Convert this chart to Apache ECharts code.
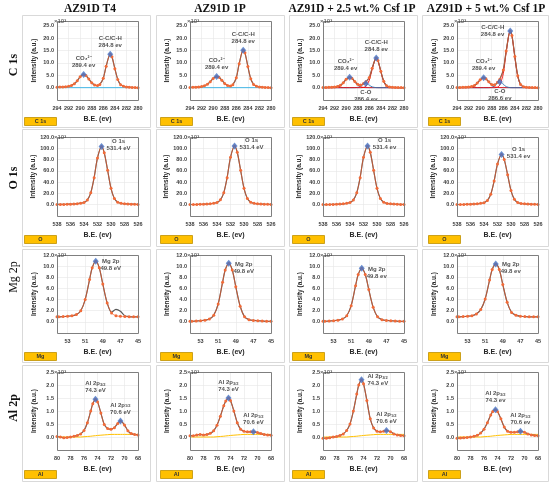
<!DOCTYPE html>
<html lang="en">
<head>
    <meta charset="UTF-8">
    <script src="https://cdn.jsdelivr.net/npm/echarts@6/dist/echarts.min.js"></script>
    <title>XPS spectra</title>
    <style>
        html, body { margin: 0; padding: 0; background: #fff; }
        #main { width: 550px; height: 482px; }
    </style>
</head>
<body>
<div id="main"></div>

<script>
    // column / row headings
    var COLS = ['AZ91D T4', 'AZ91D 1P', 'AZ91D + 2.5 wt.% Csf 1P', 'AZ91D + 5 wt.% Csf 1P'];
    var ROWS = ['C 1s', 'O 1s', 'Mg 2p', 'Al 2p'];
    var TAGS = ['C 1s', 'O', 'Mg', 'Al'];

    // ---- C 1s ----
    var XC = [294, 293.5, 293, 292.5, 292, 291.5, 291, 290.5, 290, 289.4, 289, 288.5, 288, 287.5, 287, 286.6, 286, 285.5, 284.8, 284.5, 284, 283.5, 283, 282.5, 282, 281.5, 281, 280.5, 280];
    var C_T4 = [0.2, 0.25, 0.3, 0.4, 0.55, 0.9, 1.6, 2.8, 4.4, 5.3, 4.9, 3.5, 2.0, 1.1, 0.85, 1.3, 3.8, 8.7, 13.5, 12.5, 7.7, 3.3, 1.2, 0.55, 0.3, 0.2, 0.1, 0.05, 0.0];
    var C_1P = [0.1, 0.15, 0.2, 0.3, 0.45, 0.75, 1.35, 2.4, 3.7, 4.5, 4.2, 3.0, 1.7, 0.9, 0.7, 1.2, 4.0, 9.7, 15.2, 14.1, 8.6, 3.6, 1.3, 0.55, 0.3, 0.2, 0.1, 0.05, 0.0];
    var C_25 = [0.1, 0.1, 0.15, 0.2, 0.3, 0.5, 1.0, 2.0, 3.4, 4.2, 3.8, 2.5, 1.35, 1.05, 1.65, 2.35, 4.1, 7.9, 12.0, 11.0, 6.6, 2.6, 0.8, 0.3, 0.15, 0.1, 0.05, 0.03, 0.0];
    var C_25_CO3 = [0, 0, 0, 0.02, 0.05, 0.2, 0.7, 1.77, 3.2, 4.1, 3.67, 2.34, 1.05, 0.34, 0.07, 0.02, 0, 0, 0, 0, 0, 0, 0, 0, 0, 0, 0, 0, 0];
    var C_25_CO = [0, 0, 0, 0, 0, 0, 0, 0, 0, 0, 0, 0.01, 0.11, 0.54, 1.36, 1.7, 1.02, 0.31, 0.02, 0, 0, 0, 0, 0, 0, 0, 0, 0, 0];
    var C_25_CC = [0, 0, 0, 0, 0, 0, 0, 0, 0, 0, 0, 0, 0, 0, 0.11, 0.54, 2.99, 7.44, 11.9, 10.91, 6.44, 2.36, 0.54, 0.07, 0.01, 0, 0, 0, 0];
    var C_5 = [0.1, 0.1, 0.15, 0.2, 0.3, 0.45, 0.9, 1.9, 3.2, 4.0, 3.6, 2.35, 1.3, 1.2, 2.2, 3.45, 7.2, 14.8, 23.0, 21.1, 12.6, 4.8, 1.3, 0.35, 0.15, 0.1, 0.05, 0.03, 0.0];
    var C_5_CO3 = [0, 0, 0, 0.02, 0.04, 0.18, 0.66, 1.68, 3.04, 3.9, 3.49, 2.22, 1.0, 0.32, 0.07, 0.02, 0, 0, 0, 0, 0, 0, 0, 0, 0, 0, 0, 0, 0];
    var C_5_CO = [0, 0, 0, 0, 0, 0, 0, 0, 0, 0, 0, 0.01, 0.14, 0.74, 1.84, 2.3, 1.38, 0.41, 0.02, 0, 0, 0, 0, 0, 0, 0, 0, 0, 0];
    var C_5_CC = [0, 0, 0, 0, 0, 0, 0, 0, 0, 0, 0, 0, 0, 0, 0.22, 1.03, 5.72, 14.25, 22.8, 20.9, 12.33, 4.51, 1.03, 0.14, 0.02, 0, 0, 0, 0];
    var CB_X = [294, 280];
    var CB_Y = [0, 0];
    var C_T4_PK = [[289.4, 5.3], [284.8, 13.5]];
    var C_1P_PK = [[289.4, 4.5], [284.8, 15.2]];
    var C_25_PK = [[289.4, 4.2], [286.6, 1.7], [284.8, 12.0]];
    var C_5_PK = [[289.4, 4.0], [286.6, 2.3], [284.8, 23.0]];

    // ---- O 1s ----
    var XO = [538, 537.5, 537, 536.5, 536, 535.5, 535, 534.5, 534, 533.5, 533, 532.5, 532, 531.4, 531, 530.5, 530, 529.5, 529, 528.5, 528, 527.5, 527, 526.5, 526];
    var O_T4 = [0.5, 0.5, 0.6, 0.8, 1.0, 1.3, 1.8, 2.7, 4.0, 8.5, 21, 48, 83, 103, 92, 61, 29, 11, 4.4, 2.5, 1.8, 1.3, 1.0, 0.8, 0.6];
    var O_1P = [0.4, 0.4, 0.5, 0.7, 0.9, 1.2, 1.7, 2.6, 4.0, 8.6, 21, 48, 84, 104, 93, 61, 29, 11, 4.4, 2.4, 1.7, 1.2, 0.9, 0.7, 0.5];
    var O_25 = [0.3, 0.3, 0.4, 0.6, 0.8, 1.1, 1.6, 2.5, 3.9, 8.5, 21, 48, 84, 104, 93, 61, 29, 11, 4.3, 2.3, 1.6, 1.1, 0.8, 0.6, 0.4];
    var O_5 = [0.4, 0.4, 0.5, 0.7, 0.9, 1.2, 1.6, 2.4, 3.6, 7.5, 18.5, 42, 72, 89, 80, 53, 25, 9.5, 3.8, 2.2, 1.6, 1.1, 0.9, 0.7, 0.5];
    var O_T4_PK = [[531.4, 103]];
    var O_1P_PK = [[531.4, 104]];
    var O_25_PK = [[531.4, 104]];
    var O_5_PK = [[531.4, 89]];

    // ---- Mg 2p ----
    var XM = [54.2, 54, 53.5, 53, 52.5, 52, 51.5, 51, 50.5, 50.2, 49.8, 49.4, 49, 48.5, 48, 47.5, 47, 46.5, 46, 45.5, 45];
    var MG_T4 = [0.9, 0.9, 0.95, 1.0, 1.1, 1.3, 2.0, 4.0, 7.6, 9.7, 10.9, 9.7, 6.8, 3.4, 1.6, 1.1, 1.0, 0.95, 0.9, 0.9, 0.9];
    var MG_T4_FIT = [0.9, 0.9, 0.95, 1.0, 1.1, 1.3, 2.0, 4.0, 7.6, 9.7, 10.9, 9.7, 6.8, 3.4, 1.75, 2.25, 1.9, 1.1, 0.95, 0.9, 0.9];
    var MG_1P = [0.1, 0.1, 0.15, 0.2, 0.3, 0.5, 1.2, 3.2, 7.1, 9.3, 10.5, 9.3, 6.3, 2.8, 0.9, 0.4, 0.25, 0.2, 0.15, 0.1, 0.1];
    var MG_25 = [0.1, 0.1, 0.15, 0.2, 0.3, 0.5, 1.1, 2.9, 6.5, 8.5, 9.6, 8.5, 5.8, 2.6, 0.9, 0.4, 0.25, 0.2, 0.15, 0.1, 0.1];
    var MG_5 = [0.9, 0.9, 0.95, 1.0, 1.1, 1.4, 2.2, 4.1, 7.5, 9.4, 10.4, 9.4, 6.7, 3.5, 1.7, 1.2, 1.0, 0.95, 0.9, 0.9, 0.9];
    var MG_T4_PK = [[49.8, 10.9]];
    var MG_1P_PK = [[49.8, 10.5]];
    var MG_25_PK = [[49.8, 9.6]];
    var MG_5_PK = [[49.8, 10.4]];

    // ---- Al 2p ----
    var XA = [80, 79.5, 79, 78.5, 78, 77.5, 77, 76.5, 76, 75.5, 75, 74.7, 74.3, 74, 73.5, 73, 72.5, 72, 71.5, 71, 70.6, 70, 69.5, 69, 68.5, 68];
    var AL_T4 = [0.02, 0.0, -0.03, -0.02, 0.0, 0.03, 0.06, 0.12, 0.25, 0.55, 1.0, 1.28, 1.45, 1.36, 0.92, 0.48, 0.33, 0.3, 0.36, 0.52, 0.62, 0.46, 0.24, 0.13, 0.1, 0.08];
    var AL_1P = [0.05, 0.05, 0.08, 0.1, 0.08, 0.1, 0.14, 0.24, 0.45, 0.8, 1.2, 1.38, 1.5, 1.4, 1.0, 0.55, 0.3, 0.22, 0.2, 0.2, 0.2, 0.17, 0.13, 0.1, 0.08, 0.07];
    var AL_25 = [-0.05, -0.05, -0.03, 0.0, 0.02, 0.06, 0.12, 0.25, 0.5, 1.0, 1.65, 2.0, 2.2, 2.05, 1.4, 0.7, 0.35, 0.22, 0.2, 0.22, 0.25, 0.2, 0.12, 0.08, 0.06, 0.05];
    var AL_5 = [-0.05, -0.04, -0.03, -0.02, 0.0, 0.03, 0.07, 0.15, 0.3, 0.55, 0.85, 0.98, 1.05, 0.98, 0.7, 0.38, 0.22, 0.18, 0.18, 0.2, 0.22, 0.18, 0.12, 0.08, 0.06, 0.05];
    var AL_BG = [0, 0, 0, 0, 0, 0, 0, 0, 0.01, 0.02, 0.03, 0.04, 0.05, 0.06, 0.07, 0.08, 0.09, 0.1, 0.1, 0.1, 0.1, 0.1, 0.1, 0.1, 0.1, 0.1];
    var AL_T4_PK = [[74.3, 1.45], [70.6, 0.62]];
    var AL_1P_PK = [[74.3, 1.5], [70.6, 0.2]];
    var AL_25_PK = [[74.3, 2.2], [70.6, 0.25]];
    var AL_5_PK = [[74.3, 1.05], [70.6, 0.22]];

    // axis ranges per row
    var X_MIN = [280, 526, 45, 68];
    var X_MAX = [294, 538, 54.2, 80];
    var X_LAST = [294, 538, 53, 80];
    var Y_MIN = [-5, -20, -2, -0.5];
    var Y_MAX = [27, 120, 12, 2.5];
    var Y_STEP = [5, 20, 2, 0.5];
    var Y_LAST = [25, 120, 12, 2.5];

    // layout
    var GL = [57, 190, 323, 457], GW = 81;
    var GT = [21, 137, 255, 372], GH = [79, 79, 78, 78];
    var CX = [22, 156, 289, 422], CW = [128, 128, 128, 126];
    var CY = [15, 129, 249, 365], CH = [112, 117, 113, 116];
    var TX = [24, 160, 292, 428], TY = [117, 235, 352, 470];

    var TXT = '#262626';
    var FONT = 'Liberation Sans';
    var lbl = {fontSize: 6, fontWeight: 'bold', color: TXT, fontFamily: FONT, lineHeight: 7};
    var alRich = {
        a: {fontSize: 6, fontWeight: 'bold', color: TXT, fontFamily: FONT, lineHeight: 7},
        s: {fontSize: 4, fontWeight: 'bold', color: TXT, fontFamily: FONT, lineHeight: 7, padding: [3, 0, 0, 0]}
    };
    var P_TOP = {position: 'top', distance: 2};
    var P_BOT = {position: 'bottom', distance: 2};
    var P_LEFT = {position: 'left', distance: 3};
    var P_O = {position: 'right', distance: 3, align: 'center', offset: [11, -2]};
    var P_MG = {position: 'right', distance: 3, align: 'center', offset: [9, 4]};
    var P_AL = {position: 'right', distance: 3, align: 'left', offset: [0, 0]};

    var CO3 = 'CO₃²⁻\n289.4 ev', CC = 'C-C/C-H\n284.8 ev';
    var AL1 = function (u) { return '{a|Al 2p}{s|3/2}\n{a|74.3 ' + u + '}'; };
    var AL2 = function (u) { return '{a|Al 2p}{s|1/2}\n{a|70.6 ' + u + '}'; };

    var PANELS = [
        {x: XC, y: C_T4, pk: C_T4_PK, txt: [CO3, CC], pos: [P_TOP, P_TOP], base: 'c'},
        {x: XC, y: C_1P, pk: C_1P_PK, txt: [CO3, CC], pos: [P_TOP, P_TOP], base: 'c'},
        {x: XC, y: C_25, pk: C_25_PK, txt: [CO3, 'C-O\n286.4 ev', CC], pos: [{position: 'top', distance: 2, offset: [-4, 0]}, P_BOT, P_TOP], base: 'c',
            comps: [[C_25_CO3, '#ff0000'], [C_25_CO, '#2e75b6'], [C_25_CC, '#ff0000']]},
        {x: XC, y: C_5, pk: C_5_PK, txt: [CO3, 'C-O\n286.6 ev', CC], pos: [P_TOP, P_BOT, P_LEFT], base: 'c',
            comps: [[C_5_CO3, '#ff0000'], [C_5_CO, '#2e75b6'], [C_5_CC, '#ff0000']]},
        {x: XO, y: O_T4, pk: O_T4_PK, txt: ['O 1s\n531.4 eV'], pos: [P_O]},
        {x: XO, y: O_1P, pk: O_1P_PK, txt: ['O 1s\n531.4 eV'], pos: [P_O]},
        {x: XO, y: O_25, pk: O_25_PK, txt: ['O 1s\n531.4 ev'], pos: [P_O]},
        {x: XO, y: O_5, pk: O_5_PK, txt: ['O 1s\n531.4 ev'], pos: [P_O]},
        {x: XM, y: MG_T4, fit: MG_T4_FIT, pk: MG_T4_PK, txt: ['Mg 2p\n49.8 eV'], pos: [P_MG]},
        {x: XM, y: MG_1P, pk: MG_1P_PK, txt: ['Mg 2p\n49.8 eV'], pos: [P_MG]},
        {x: XM, y: MG_25, pk: MG_25_PK, txt: ['Mg 2p\n49.8 ev'], pos: [P_MG]},
        {x: XM, y: MG_5, pk: MG_5_PK, txt: ['Mg 2p\n49.8 ev'], pos: [P_MG]},
        {x: XA, y: AL_T4, pk: AL_T4_PK, txt: [AL1('eV'), AL2('eV')], pos: [P_TOP, P_TOP], base: 'a'},
        {x: XA, y: AL_1P, pk: AL_1P_PK, txt: [AL1('eV'), AL2('eV')], pos: [P_TOP, P_TOP], base: 'a'},
        {x: XA, y: AL_25, pk: AL_25_PK, txt: [AL1('eV'), AL2('eV')], pos: [P_AL, P_TOP], base: 'a'},
        {x: XA, y: AL_5, pk: AL_5_PK, txt: [AL1('ev'), AL2('ev')], pos: [P_TOP, P_TOP], base: 'a'}
    ];

    function pairs(xs, ys) {
        return xs.map(function (x, k) { return [x, ys[k]]; });
    }

    var grids = [], xAxes = [], yAxes = [], series = [], graphics = [];

    PANELS.forEach(function (p, i) {
        var r = Math.floor(i / 4), c = i % 4;
        grids.push({left: GL[c], top: GT[r], width: GW, height: GH[r]});
        xAxes.push({
            gridIndex: i, type: 'value', inverse: true,
            min: X_MIN[r], max: X_MAX[r], interval: 2,
            name: 'B.E. (ev)', nameLocation: 'middle', nameGap: 16,
            nameTextStyle: {fontSize: 7, fontWeight: 'bold', color: TXT, fontFamily: FONT},
            axisLine: {show: false}, axisTick: {show: false},
            splitLine: {show: true, lineStyle: {color: '#e6e6e6', width: 0.6}},
            axisLabel: {
                fontSize: 5.5, margin: 5, color: '#404040', fontWeight: 'bold', fontFamily: FONT,
                formatter: function (v) { return v > X_LAST[r] + 1e-6 ? '' : String(Math.round(v)); }
            }
        });
        yAxes.push({
            gridIndex: i, type: 'value',
            min: Y_MIN[r], max: Y_MAX[r], interval: Y_STEP[r],
            name: 'Intensity (a.u.)', nameLocation: 'middle', nameGap: 19, nameRotate: 90,
            nameTextStyle: {fontSize: 6.5, fontWeight: 'bold', color: TXT, fontFamily: FONT},
            axisLine: {show: false}, axisTick: {show: false},
            splitLine: {show: true, lineStyle: {color: '#e6e6e6', width: 0.6}},
            axisLabel: {
                fontSize: 5.5, margin: 3, color: '#404040', fontWeight: 'bold', fontFamily: FONT,
                formatter: function (v) {
                    return (v < -1e-6 || v > Y_LAST[r] + 1e-6) ? '' : v.toFixed(1);
                }
            }
        });

        var ax = {xAxisIndex: i, yAxisIndex: i, silent: true, animation: false};

        if (p.base === 'c') {
            series.push(Object.assign({type: 'line', data: pairs(CB_X, CB_Y), symbol: 'none',
                lineStyle: {color: '#41b6e6', width: 1}, z: 1}, ax));
        }
        if (p.base === 'a') {
            series.push(Object.assign({type: 'line', data: pairs(p.x, AL_BG), symbol: 'none', smooth: 0.3,
                lineStyle: {color: '#ffc000', width: 1}, z: 1}, ax));
        }
        (p.comps || []).forEach(function (cm) {
            series.push(Object.assign({type: 'line', data: pairs(p.x, cm[0]), symbol: 'none', smooth: 0.3,
                lineStyle: {color: cm[1], width: 0.9}, z: 1}, ax));
        });
        // fitted envelope
        series.push(Object.assign({type: 'line', data: pairs(p.x, p.fit || p.y), symbol: 'none', smooth: 0.3,
            lineStyle: {color: '#595959', width: 1.2}, z: 2}, ax));
        // measured points, thin orange trace with dots
        series.push(Object.assign({type: 'line', data: pairs(p.x, p.y), smooth: 0.3,
            symbol: 'circle', symbolSize: 3, showAllSymbol: true,
            lineStyle: {color: '#f05a28', width: 0.7},
            itemStyle: {color: '#f26b38'}, z: 3}, ax));
        // peak markers
        series.push(Object.assign({
            type: 'scatter', symbol: 'diamond', symbolSize: [6, 7],
            itemStyle: {color: '#4472c4'}, z: 4,
            data: p.pk.map(function (pt, k) {
                var l = Object.assign({show: true, formatter: p.txt[k], rich: alRich}, lbl, p.pos[k]);
                return {value: pt, label: l};
            })
        }, ax));

        // plot frame
        graphics.push({
            type: 'rect', z: 100, silent: true,
            shape: {x: GL[c] + 0.5, y: GT[r] + 0.5, width: GW, height: GH[r]},
            style: {fill: 'transparent', stroke: '#7f7f7f', lineWidth: 1}
        });
        graphics.push({
            type: 'text', z: 101, silent: true,
            style: {text: '×10³', x: GL[c] - 3, y: GT[r], fill: '#404040',
                font: '6px ' + FONT, textAlign: 'left', textVerticalAlign: 'middle', align: 'left', verticalAlign: 'middle'}
        });
    });

    // panel cards and tags
    for (var r = 0; r < 4; r++) {
        for (var c = 0; c < 4; c++) {
            graphics.push({
                type: 'rect', z: 0, silent: true,
                shape: {x: CX[c] + 0.5, y: CY[r] + 0.5, width: CW[c], height: CH[r]},
                style: {fill: 'transparent', stroke: '#d9d9d9', lineWidth: 1}
            });
            graphics.push({
                type: 'rect', z: 50, silent: true,
                shape: {x: TX[c] + 0.5, y: TY[r] + 0.5, width: 32, height: 8},
                style: {fill: '#ffc000', stroke: '#bf9000', lineWidth: 0.8}
            });
            graphics.push({
                type: 'text', z: 51, silent: true,
                style: {text: TAGS[r], x: TX[c] + 16.5, y: TY[r] + 4.5, fill: '#333',
                    font: 'bold 5.5px ' + FONT, textAlign: 'center', textVerticalAlign: 'middle', align: 'center', verticalAlign: 'middle'}
            });
        }
    }

    var TITLE_X = [90, 220, 352, 486];
    COLS.forEach(function (t, c) {
        graphics.push({
            type: 'text', z: 60, silent: true,
            style: {text: t, x: TITLE_X[c], y: 9, fill: '#111',
                font: 'bold 11.5px "Liberation Serif"', textAlign: 'center', textVerticalAlign: 'middle', align: 'center', verticalAlign: 'middle'}
        });
    });

    var ROW_Y = [65, 178, 277, 408];
    ROWS.forEach(function (t, r) {
        graphics.push({
            type: 'text', z: 60, silent: true, x: 14, y: ROW_Y[r], rotation: Math.PI / 2,
            style: {text: t, x: 0, y: 0, fill: '#111',
                font: (r === 2 ? '' : 'bold ') + '12px "Liberation Serif"', textAlign: 'center', textVerticalAlign: 'middle', align: 'center', verticalAlign: 'middle'}
        });
    });

    var myChart = echarts.init(document.getElementById('main'));
    myChart.setOption({
        animation: false,
        backgroundColor: '#fff',
        grid: grids,
        xAxis: xAxes,
        yAxis: yAxes,
        series: series,
        graphic: graphics
    });
</script>
</body>
</html>
